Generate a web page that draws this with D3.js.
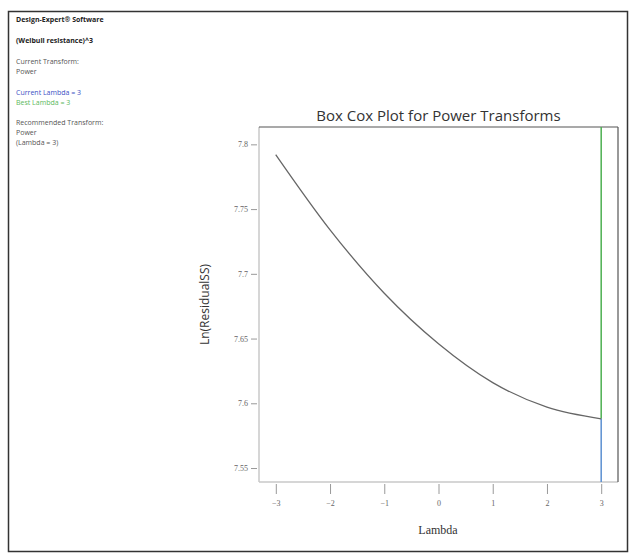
<!doctype html>
<html lang="en">
<head>
	<meta charset="utf-8" />
	<title>Box Cox Plot</title>
	<script src="https://cdn.jsdelivr.net/npm/d3@7"></script>
	<style>
		body { margin: 0; background: #fff; }
		svg { display: block; }
		.info { font: 7px "Open Sans", sans-serif; fill: #444; }
	</style>
</head>
<body>
	<svg width="630" height="554"></svg>
	<script>
		// values
		var lambdas = [-3, -2, -1, 0, 1, 2, 3];
		var lnResidualSS = [7.792, 7.734, 7.685, 7.646, 7.616, 7.597, 7.588];
		var yTicks = [7.55, 7.6, 7.65, 7.7, 7.75, 7.8];
		var currentLambda = 3;
		var bestLambda = 3;

		var infoLines = [
			{ t: "Design-Expert\u00ae Software", y: 22, bold: true, c: "#222" },
			{ t: "(Weibull resistance)^3", y: 43, bold: true, c: "#222" },
			{ t: "Current Transform:", y: 64, c: "#555" },
			{ t: "Power", y: 74, c: "#555" },
			{ t: "Current Lambda = 3", y: 95, c: "#3b4fc4" },
			{ t: "Best Lambda = 3", y: 105, c: "#5cb85c" },
			{ t: "Recommended Transform:", y: 125, c: "#555" },
			{ t: "Power", y: 135, c: "#555" },
			{ t: "(Lambda = 3)", y: 145, c: "#555" }
		];

		(function () {
			var svg = d3.select("svg");

			// outer frame
			svg.append("rect")
				.attr("x", 8.5).attr("y", 11.5)
				.attr("width", 619).attr("height", 540)
				.attr("fill", "none").attr("stroke", "#333").attr("stroke-width", 1.5);

			svg.append("g").selectAll("text")
				.data(infoLines)
				.enter().append("text")
				.attr("class", "info")
				.attr("x", 16)
				.attr("y", function (d) { return d.y; })
				.style("font-weight", function (d) { return d.bold ? "bold" : "normal"; })
				.style("fill", function (d) { return d.c; })
				.text(function (d) { return d.t; });

			var pLeft = 259, pRight = 618, pTop = 127, pBottom = 482;

			var x = d3.scaleLinear().domain([-3.31, 3.31]).range([pLeft, pRight]);
			var y = d3.scaleLinear().domain([7.5392, 7.8134]).range([pBottom, pTop]);

			// plot border: light left/bottom, dark top/right
			svg.append("line").attr("x1", pLeft).attr("x2", pLeft).attr("y1", pTop).attr("y2", pBottom)
				.attr("stroke", "#c8c8c8").attr("stroke-width", 1.5);
			svg.append("line").attr("x1", pLeft).attr("x2", pRight).attr("y1", pBottom).attr("y2", pBottom)
				.attr("stroke", "#c8c8c8").attr("stroke-width", 1.5);
			svg.append("line").attr("x1", pLeft).attr("x2", pRight).attr("y1", pTop).attr("y2", pTop)
				.attr("stroke", "#555").attr("stroke-width", 1.2);
			svg.append("line").attr("x1", pRight).attr("x2", pRight).attr("y1", pTop).attr("y2", pBottom)
				.attr("stroke", "#555").attr("stroke-width", 1.2);

			// axes
			var yAxis = d3.axisLeft(y).tickValues(yTicks).tickSize(6).tickPadding(3)
				.tickFormat(function (d) { return String(+d.toFixed(2)); });
			var gy = svg.append("g").attr("transform", "translate(" + (pLeft - 2) + ",0)").call(yAxis);
			gy.select(".domain").remove();
			gy.selectAll("line").attr("stroke", "#999");
			gy.selectAll("text").attr("fill", "#666")
				.attr("font-size", 8).attr("font-family", "'Liberation Serif', serif");

			var xAxis = d3.axisBottom(x).tickValues(lambdas).tickSize(10).tickPadding(6)
				.tickFormat(d3.format("d"));
			var gx = svg.append("g").attr("transform", "translate(0," + (pBottom + 2) + ")").call(xAxis);
			gx.select(".domain").remove();
			gx.selectAll("line").attr("stroke", "#999");
			gx.selectAll("text").attr("fill", "#666")
				.attr("font-size", 8).attr("font-family", "'Liberation Serif', serif");

			// lambda markers
			var yAtBest = y(lnResidualSS[lambdas.indexOf(bestLambda)]);
			svg.append("line")
				.attr("x1", x(bestLambda)).attr("x2", x(bestLambda))
				.attr("y1", pTop).attr("y2", yAtBest)
				.attr("stroke", "#4caf50").attr("stroke-width", 1.5);
			svg.append("line")
				.attr("x1", x(currentLambda)).attr("x2", x(currentLambda))
				.attr("y1", yAtBest).attr("y2", pBottom)
				.attr("stroke", "#5b8fd0").attr("stroke-width", 1.5);

			// curve
			var line = d3.line()
				.x(function (d, i) { return x(lambdas[i]); })
				.y(function (d) { return y(d); })
				.curve(d3.curveMonotoneX);
			svg.append("path")
				.datum(lnResidualSS)
				.attr("d", line)
				.attr("fill", "none")
				.attr("stroke", "#666")
				.attr("stroke-width", 1.3);

			// titles
			svg.append("text")
				.attr("x", (pLeft + pRight) / 2).attr("y", 121)
				.attr("text-anchor", "middle")
				.style("font", "15px 'Open Sans', sans-serif").style("fill", "#333")
				.text("Box Cox Plot for Power Transforms");

			svg.append("text")
				.attr("transform", "translate(209," + ((pTop + pBottom) / 2) + ") rotate(-90)")
				.attr("text-anchor", "middle")
				.style("font", "12px 'Open Sans', sans-serif").style("fill", "#333")
				.text("Ln(ResidualSS)");

			svg.append("text")
				.attr("x", 438).attr("y", 534)
				.attr("text-anchor", "middle")
				.style("font", "12px 'Liberation Serif', serif").style("fill", "#333")
				.text("Lambda");
		})();
	</script>
</body>
</html>
